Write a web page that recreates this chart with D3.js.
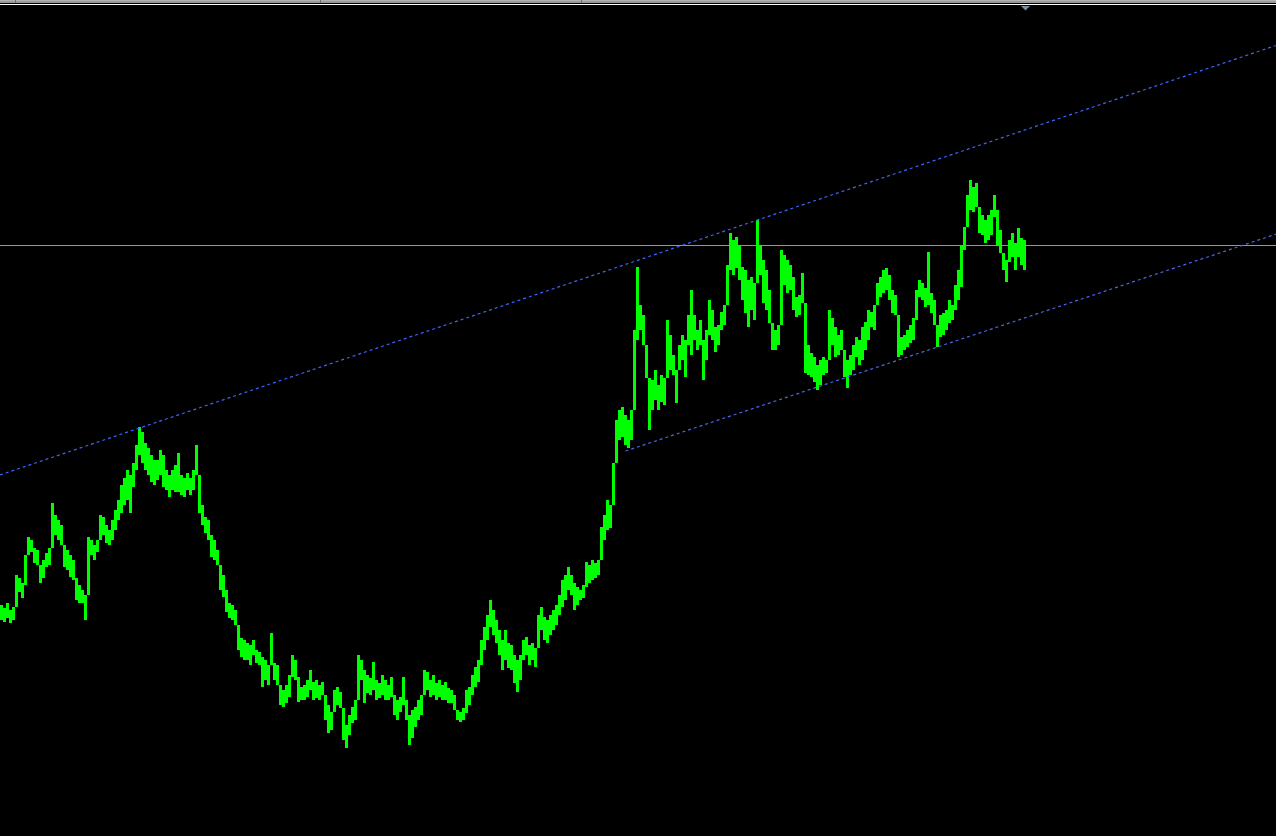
<!DOCTYPE html>
<html><head><meta charset="utf-8">
<script src="https://cdn.jsdelivr.net/npm/d3@7"></script>
<style>html,body{margin:0;padding:0;background:#000;overflow:hidden}svg{display:block}</style>
</head><body><svg id="c" width="1276" height="836"></svg>
<script>
// Bar highs/lows (price units), one bar per period
const highs = [
395,392,397,390,393,425,422,417,445,463,
460,452,450,432,440,447,452,497,485,480,
475,455,450,445,440,422,415,410,405,463,
460,455,460,485,483,475,470,480,490,500,
515,522,530,525,537,555,573,568,557,552,
545,540,540,550,545,530,525,530,535,547,
525,522,527,522,530,555,510,495,483,480,
465,460,450,435,425,410,397,395,390,370,
362,360,357,355,360,350,348,343,340,335,
367,337,335,313,310,315,325,345,340,323,
313,315,320,330,318,320,315,318,303,295,
288,310,313,308,280,275,285,293,300,345,
340,330,325,322,338,320,317,325,320,315,
323,305,300,303,323,300,285,290,293,300,
305,330,328,320,325,317,320,315,318,312,
310,305,290,288,292,310,313,325,333,340,
360,373,385,400,390,380,370,360,370,357,
355,345,340,345,360,363,355,357,352,385,
393,383,380,385,390,395,405,420,425,433,
425,417,413,410,415,438,435,440,437,440,
473,485,500,495,537,580,590,593,585,580,
590,670,733,695,685,645,615,620,630,615,
625,622,680,665,645,630,655,665,660,685,
710,685,670,680,660,670,700,690,673,675,
688,695,735,767,760,763,755,733,730,720,
723,717,780,755,740,730,710,677,670,675,
750,745,740,735,723,703,705,727,673,655,
647,643,635,640,643,640,690,682,673,665,
670,645,640,645,655,663,660,673,678,690,
688,695,717,723,730,732,725,710,705,670,
663,665,670,675,682,710,720,717,712,748,
707,700,673,685,687,690,700,695,715,730,
755,773,805,820,813,817,790,785,780,785,
790,805,790,770,743,740,760,767,757,772,762,760
];
const lows = [
380,378,382,377,380,405,408,402,415,445,
448,437,435,417,422,433,435,470,465,460,
455,433,430,423,420,400,397,397,380,440,
445,440,448,470,465,457,455,460,470,480,
487,495,500,487,513,530,545,537,530,525,
518,515,520,525,513,510,503,510,508,508,
505,503,510,505,510,525,487,475,467,460,
443,440,435,410,403,388,382,380,375,350,
343,340,340,335,345,337,335,313,320,315,
335,320,315,295,293,297,303,323,320,298,
300,300,303,310,300,302,300,305,280,267,
270,290,295,292,260,252,265,277,280,327,
320,297,307,305,310,300,302,305,300,300,
303,285,280,288,295,280,255,262,273,280,
285,312,310,303,305,300,303,300,300,297,
297,290,280,278,280,287,295,305,313,318,
335,350,360,373,365,357,345,330,340,332,
330,317,308,320,340,345,335,340,333,365,
370,360,357,365,370,375,385,393,400,410,
405,390,395,400,402,413,417,420,422,425,
453,460,470,472,513,550,560,563,555,552,
560,600,660,670,655,622,570,590,600,590,
598,595,640,630,625,597,630,640,623,655,
645,660,650,655,620,640,665,660,648,655,
670,675,707,730,725,732,720,700,687,673,
690,680,735,725,697,690,677,650,650,655,
713,715,707,710,690,683,685,697,627,625,
623,618,610,615,625,627,650,655,643,645,
650,623,612,625,630,643,635,640,650,660,
673,670,700,703,707,710,700,687,685,643,
645,650,653,657,660,680,703,700,693,695,
687,675,653,663,665,670,677,680,690,700,
713,750,785,790,788,793,767,765,757,760,
765,783,755,747,730,718,738,743,730,743,735,730
];
// Horizontal price level
const levels = [755];
// Trend channel anchors (bar index, price)
const upperTrend = [{i:46, p:572}, {i:251, p:779}];
const lowerTrend = [{i:208, p:549}, {i:275, p:616}];

const W = 1276, H = 836;
const svg = d3.select('#c');
const x = d3.scaleLinear().domain([0, 1]).range([1.5, 4.5]);
const y = d3.scaleLinear().domain([164, 1000]).range([H, 0]);
// each bar opens where the previous one ended: bridge gaps between consecutive ranges
const bars = highs.map((h, i) => {
  let top = h, bot = lows[i];
  if (i > 0) {
    if (bot > highs[i - 1]) bot = highs[i - 1];
    if (top < lows[i - 1]) top = lows[i - 1];
  }
  return {i, h: top, l: bot};
});

svg.append('rect').attr('width', W).attr('height', H).attr('fill', '#000');

// price bars
svg.append('g').attr('shape-rendering', 'crispEdges')
  .selectAll('rect').data(bars).join('rect')
  .attr('x', d => Math.round(x(d.i) - 1.5))
  .attr('width', 3)
  .attr('y', d => Math.round(y(d.h)))
  .attr('height', d => Math.max(1, Math.round(y(d.l)) - Math.round(y(d.h))))
  .attr('fill', '#00ff00');

// horizontal level
svg.selectAll('line.level').data(levels).join('line')
  .attr('class', 'level')
  .attr('x1', 0).attr('x2', W)
  .attr('y1', d => Math.round(y(d)) + 0.5).attr('y2', d => Math.round(y(d)) + 0.5)
  .attr('stroke', '#8497b8').attr('stroke-width', 1);

// trend lines (rays)
function trendAt(t, idx) {
  const [a, b] = t;
  return a.p + (idx - a.i) * (b.p - a.p) / (b.i - a.i);
}
function drawTrend(t, fromPx, color) {
  const i0 = x.invert(fromPx), i1 = x.invert(W);
  svg.append('line')
    .attr('x1', x(i0)).attr('y1', y(trendAt(t, i0)))
    .attr('x2', x(i1)).attr('y2', y(trendAt(t, i1)))
    .attr('stroke', color).attr('stroke-width', 1.2)
    .attr('stroke-dasharray', '3,3');
}
drawTrend(upperTrend, 0, '#3d64ff');
drawTrend(lowerTrend, x(lowerTrend[0].i), '#4a66ee');

// top header strip
svg.append('rect').attr('x', 0).attr('y', 0).attr('width', W).attr('height', 3).attr('fill', '#9a9a9a');
svg.append('rect').attr('x', 0).attr('y', 0).attr('width', W).attr('height', 1).attr('fill', '#b4b4b4');
svg.append('rect').attr('x', 0).attr('y', 4).attr('width', W).attr('height', 1).attr('fill', '#ffffff');
[15, 320, 581].forEach(px => {
  svg.append('rect').attr('x', px).attr('y', 0).attr('width', 1).attr('height', 3).attr('fill', '#6e6e6e');
});
// chart shift marker at last bar
const lx = x(bars.length - 1) + 1;
svg.append('path')
  .attr('d', `M${lx - 4.5},6 L${lx + 4.5},6 L${lx},10.5 Z`)
  .attr('fill', '#7b8da3');
</script>
</body></html>
